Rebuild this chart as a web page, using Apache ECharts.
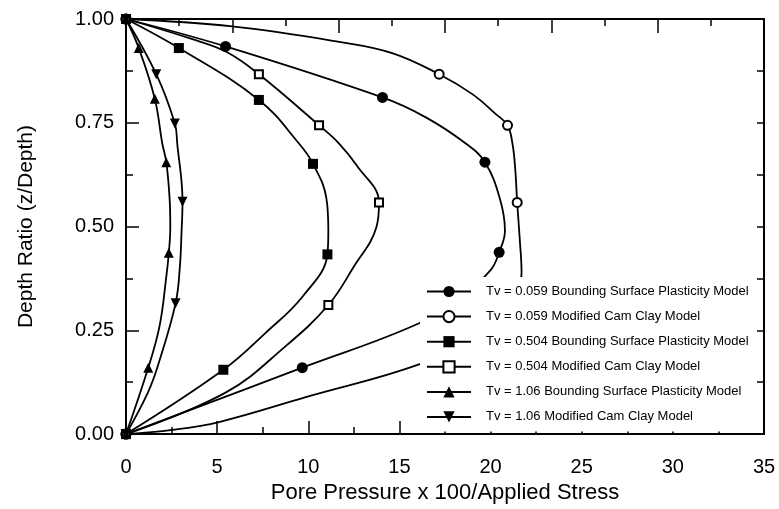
<!DOCTYPE html>
<html>
<head>
<meta charset="utf-8">
<script src="https://cdn.jsdelivr.net/npm/echarts@6/dist/echarts.min.js"></script>
<style>
  html, body { margin: 0; padding: 0; background: #fff; }
  #chart { width: 779px; height: 509px; }
</style>
</head>
<body>
<div id="chart"></div>
<script>
// Excess pore pressure isochrones: [pore pressure x 100 / applied stress, depth ratio]
// "Nodes" are the computed points that carry a marker; "trace" points only shape the curve.
const bsp059Nodes = [[0, 0], [9.67, 0.160], [20.47, 0.438], [19.69, 0.655], [14.07, 0.811], [5.46, 0.934], [0, 1]];
const bsp059Trace = [[16.08, 0.267], [18.5, 0.335], [20.0, 0.395], [20.79, 0.49], [20.5, 0.569], [18.64, 0.700], [16.45, 0.763]];

const mcc059Nodes = [[0, 0], [20.9, 0.31], [21.46, 0.558], [20.93, 0.744], [17.18, 0.867], [0, 1]];
const mcc059Trace = [[2.54, 0.010], [5.1, 0.029], [9.86, 0.089], [16.08, 0.168], [19.2, 0.235], [21.7, 0.39], [21.6, 0.47],
                     [21.35, 0.64], [21.2, 0.700], [20.29, 0.771], [19.0, 0.819], [14.6, 0.918], [11.69, 0.945], [5.83, 0.982]];

const bsp504Nodes = [[0, 0], [5.34, 0.155], [11.05, 0.433], [10.26, 0.651], [7.29, 0.805], [2.9, 0.930], [0, 1]];
const bsp504Trace = [[7.66, 0.244], [9.68, 0.331], [11.1, 0.49], [10.99, 0.569], [9.49, 0.700]];

const mcc504Nodes = [[0, 0], [11.1, 0.311], [13.88, 0.558], [10.59, 0.744], [7.29, 0.867], [0, 1]];
const mcc504Trace = [[5.46, 0.10], [8.76, 0.212], [12.45, 0.40], [13.74, 0.499], [12.64, 0.648], [11.69, 0.700], [5.5, 0.921], [3.6, 0.952]];

const bsp106Nodes = [[0, 0], [1.22, 0.160], [2.35, 0.437], [2.21, 0.655], [1.58, 0.808], [0.70, 0.930], [0, 1]];
const bsp106Trace = [[1.84, 0.26], [2.21, 0.379], [2.43, 0.498], [2.39, 0.569], [1.99, 0.700]];

const mcc106Nodes = [[0, 0], [2.72, 0.315], [3.1, 0.560], [2.68, 0.748], [1.66, 0.867], [0, 1]];
const mcc106Trace = [[1.2, 0.10], [1.8, 0.172], [2.95, 0.40], [3.05, 0.49], [2.81, 0.700]];

const seriesNames = [
  'Tv = 0.059 Bounding Surface Plasticity Model',
  'Tv = 0.059 Modified Cam Clay Model',
  'Tv = 0.504 Bounding Surface Plasticity Model',
  'Tv = 0.504 Modified Cam Clay Model',
  'Tv = 1.06 Bounding Surface Plasticity Model',
  'Tv = 1.06 Modified Cam Clay Model'
];

const xTicks = { min: 0, max: 35, step: 5 };
const yTicks = { min: 0, max: 1, step: 0.25 };

const FONT = 'Liberation Sans, Arial, sans-serif';

// merge nodes and trace points along depth; only nodes keep a symbol
function buildData(nodes, trace) {
  const pts = nodes.map(p => ({ p, node: true })).concat(trace.map(p => ({ p, node: false })));
  pts.sort((a, b) => a.p[1] - b.p[1]);
  return pts.map(o => o.node ? { value: o.p } : { value: o.p, symbol: 'none' });
}

function curve(name, nodes, trace, symbol, size, extra) {
  return Object.assign({
    name: name,
    type: 'line',
    xAxisIndex: 0,
    yAxisIndex: 0,
    data: buildData(nodes, trace),
    smooth: 0.4,
    symbol: symbol,
    symbolSize: size,
    showAllSymbol: true,
    clip: false,
    lineStyle: { color: '#000', width: 1.8 },
    itemStyle: { color: '#000', borderColor: '#000', borderWidth: symbol.indexOf('empty') === 0 ? 1.5 : 0 },
    emphasis: { disabled: true }
  }, extra || {});
}

const axisLine = { show: true, onZero: false, lineStyle: { color: '#000', width: 2 } };
const tickStyle = { color: '#000', width: 1.5 };

const chart = echarts.init(document.getElementById('chart'), null, { renderer: 'canvas' });
chart.setOption({
  animation: false,
  backgroundColor: '#fff',
  grid: { left: 126, right: 15, top: 19, bottom: 70, containLabel: false },
  legend: {
    orient: 'vertical',
    left: 420,
    top: 277,
    backgroundColor: '#fff',
    padding: [8, 4, 8, 6],
    itemWidth: 44,
    itemHeight: 14,
    itemGap: 12,
    selectedMode: false,
    textStyle: { fontFamily: FONT, fontSize: 13, color: '#000', padding: [0, 0, 0, 10] },
    data: seriesNames
  },
  xAxis: [
    {
      type: 'value', position: 'bottom',
      min: xTicks.min, max: xTicks.max, interval: xTicks.step,
      name: 'Pore Pressure x 100/Applied Stress',
      nameLocation: 'middle', nameGap: 46,
      nameTextStyle: { fontFamily: FONT, fontSize: 22, color: '#000' },
      axisLine: axisLine,
      axisTick: { show: true, inside: true, length: 13, lineStyle: tickStyle },
      minorTick: { show: true, splitNumber: 2, length: 7, lineStyle: tickStyle },
      axisLabel: { fontFamily: FONT, fontSize: 20, color: '#000', margin: 23 },
      splitLine: { show: false }
    },
    {
      type: 'value', position: 'top',
      min: 0, max: 30, interval: 5,
      axisLine: axisLine,
      axisTick: { show: true, inside: true, length: 14, lineStyle: tickStyle },
      minorTick: { show: true, splitNumber: 2, length: 7, lineStyle: tickStyle },
      axisLabel: { show: false },
      splitLine: { show: false }
    }
  ],
  yAxis: [
    {
      type: 'value', position: 'left',
      min: yTicks.min, max: yTicks.max, interval: yTicks.step,
      name: 'Depth Ratio (z/Depth)',
      nameLocation: 'middle', nameGap: 89,
      nameTextStyle: { fontFamily: FONT, fontSize: 21, color: '#000' },
      axisLine: axisLine,
      axisTick: { show: true, inside: true, length: 13, lineStyle: tickStyle },
      minorTick: { show: true, splitNumber: 2, length: 7, lineStyle: tickStyle },
      axisLabel: { fontFamily: FONT, fontSize: 20, color: '#000', margin: 12, formatter: v => v.toFixed(2) },
      splitLine: { show: false }
    },
    {
      type: 'value', position: 'right',
      min: 0, max: 1, interval: 0.125,
      axisLine: axisLine,
      axisTick: { show: true, inside: true, length: 7, lineStyle: tickStyle },
      axisLabel: { show: false },
      splitLine: { show: false }
    }
  ],
  series: [
    curve(seriesNames[0], bsp059Nodes, bsp059Trace, 'circle', 11),
    curve(seriesNames[1], mcc059Nodes, mcc059Trace, 'emptyCircle', 9),
    curve(seriesNames[2], bsp504Nodes, bsp504Trace, 'rect', 10),
    curve(seriesNames[3], mcc504Nodes, mcc504Trace, 'emptyRect', 8),
    curve(seriesNames[4], bsp106Nodes, bsp106Trace, 'triangle', 10),
    curve(seriesNames[5], mcc106Nodes, mcc106Trace, 'triangle', 10, { symbolRotate: 180 })
  ]
});
</script>
</body>
</html>
